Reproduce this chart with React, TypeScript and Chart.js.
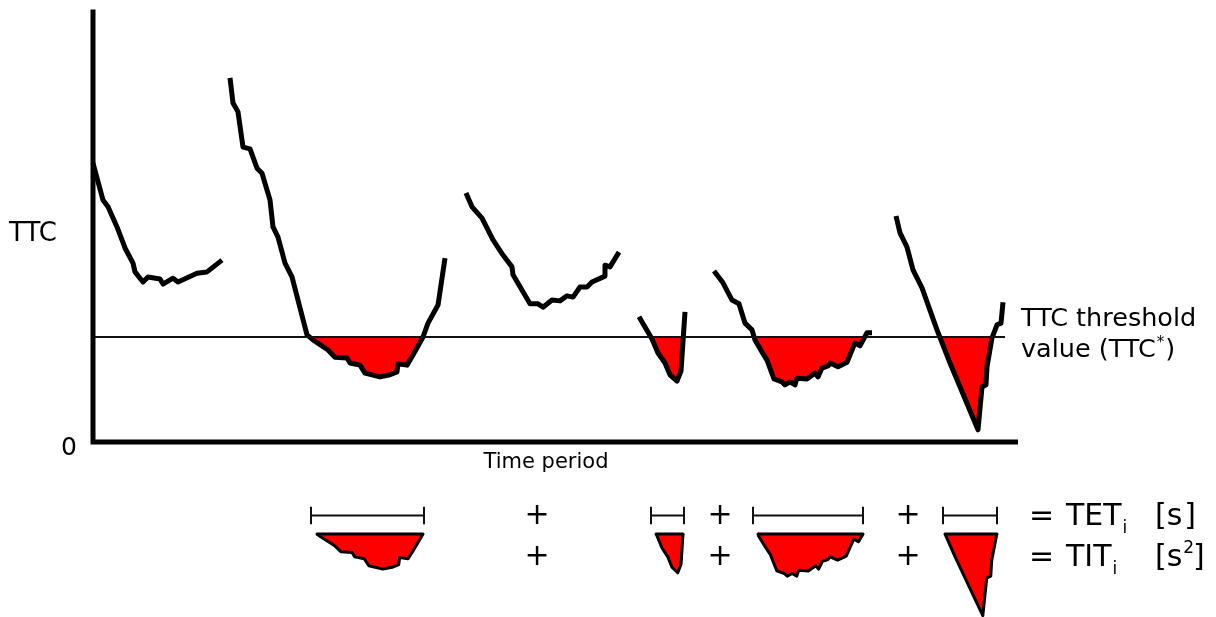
import React, { useEffect, useRef } from "react";
import { Chart, registerables } from "chart.js";

Chart.register(...registerables);

// ---- DATA (time in s, TTC in s) ----
const thresholdTTC = 2.5;

const seg1T = [0, 1.0, 1.5, 2.4, 3.2, 4.0, 4.2, 5.0, 5.5, 6.7, 7.0, 8.0, 8.5, 10.4, 11.4, 12.9];
const seg1V = [6.64, 5.76, 5.6, 5.12, 4.62, 4.26, 4.05, 3.81, 3.93, 3.88, 3.76, 3.9, 3.81, 4.02, 4.05, 4.33];

const seg2T = [13.7, 14.0, 14.5, 15.0, 15.7, 16.4, 16.9, 17.7, 18.0, 18.5, 19.2, 19.9, 20.5, 21.4, 22.0, 23.5, 24.2, 25.4, 25.7, 26.7, 27.2, 28.7, 29.7, 30.4, 30.5, 31.4, 32.0, 33.0, 33.5, 34.5, 35.2];
const seg2V = [8.67, 8.07, 7.86, 7.02, 6.98, 6.52, 6.4, 5.76, 5.12, 4.88, 4.26, 3.93, 3.38, 2.55, 2.43, 2.19, 2.02, 2.0, 1.88, 1.83, 1.64, 1.55, 1.6, 1.67, 1.86, 1.83, 2.07, 2.5, 2.83, 3.26, 4.38];

const seg3T = [37.3, 37.9, 38.9, 40.0, 41.0, 41.9, 42.0, 43.7, 44.5, 45.0, 45.9, 46.7, 47.4, 48.0, 48.7, 49.4, 49.9, 51.2, 51.2, 51.7, 52.6];
const seg3V = [5.93, 5.6, 5.33, 4.81, 4.45, 4.17, 3.98, 3.29, 3.29, 3.21, 3.38, 3.36, 3.48, 3.45, 3.69, 3.69, 3.81, 3.95, 4.21, 4.17, 4.52];

const seg4T = [54.6, 55.9, 56.5, 57.2, 57.7, 58.4, 58.8, 59.2];
const seg4V = [2.98, 2.45, 2.12, 1.88, 1.6, 1.45, 1.69, 3.1];

const seg5T = [62.1, 63.0, 63.9, 64.6, 65.2, 65.9, 66.2, 66.9, 67.4, 68.1, 68.9, 69.2, 69.7, 70.2, 70.4, 71.4, 72.2, 72.5, 72.9, 73.5, 73.7, 74.5, 75.4, 76.2, 76.7, 77.4, 77.9];
const seg5V = [4.07, 3.79, 3.38, 3.29, 2.83, 2.67, 2.43, 2.14, 1.95, 1.5, 1.43, 1.36, 1.43, 1.36, 1.52, 1.5, 1.64, 1.55, 1.76, 1.81, 1.88, 1.79, 1.9, 2.36, 2.29, 2.6, 2.6];

const seg6T = [80.3, 80.7, 81.4, 82.0, 82.9, 84.4, 85.7, 88.5, 88.9, 89.3, 89.4, 89.9, 90.4, 90.8, 91.0];
const seg6V = [5.38, 4.98, 4.64, 4.1, 3.67, 2.67, 1.88, 0.29, 1.31, 1.36, 1.79, 2.48, 2.79, 2.83, 3.33];

// Exceedance intervals (TET) and the re-drawn exposure areas (TIT)
const tetStart = [21.8, 55.8, 66.0, 85.0];
const tetEnd = [33.1, 59.1, 77.0, 90.4];
const titStart = [22.4, 56.3, 66.5, 85.2];
const titEnd = [33.0, 59.0, 77.0, 90.4];
const plusT = [44.4, 62.7, 81.5];

const axisTimeEnd = 92.5;
const axisTTCTop = 10.3;
const thresholdEnd = 91.2;

// ---- layout constants ----
const X_MIN = -9.3;
const X_MAX = 112.3;
const Y_MIN = -4.1667;
const Y_MAX = 10.5238;
const TET_ROW = -1.75;
const TET_TICK = 0.21;
const TIT_TOP = -2.19;
const TIT_SCALE = 0.88;
const PLUS_ROW2 = -2.72;

const RED = "#ff0000";
const FONT = '"DejaVu Sans", Verdana, sans-serif';

type P = { x: number; y: number };

function pts(T: number[], V: number[]): P[] {
  return T.map((t, i) => ({ x: t, y: V[i] }));
}

function belowPart(T: number[], V: number[], thr: number): P[] {
  const out: P[] = [];
  for (let i = 0; i < T.length; i++) {
    if (i > 0) {
      const a = V[i - 1] - thr;
      const b = V[i] - thr;
      if (a < 0 !== b < 0 && a !== b) {
        const f = a / (a - b);
        out.push({ x: T[i - 1] + f * (T[i] - T[i - 1]), y: thr });
      }
    }
    if (V[i] < thr) out.push({ x: T[i], y: V[i] });
  }
  return out;
}

const curveSegments: [number[], number[]][] = [
  [seg1T, seg1V],
  [seg2T, seg2V],
  [seg3T, seg3V],
  [seg4T, seg4V],
  [seg5T, seg5V],
  [seg6T, seg6V],
];
const exceedSegments: [number[], number[]][] = [
  [seg2T, seg2V],
  [seg4T, seg4V],
  [seg5T, seg5V],
  [seg6T, seg6V],
];

const textPlugin = {
  id: "diagramText",
  afterDraw(chart: any) {
    const { ctx } = chart;
    const xs = chart.scales.x;
    const ys = chart.scales.y;
    const X = (t: number) => xs.getPixelForValue(t);
    const Y = (v: number) => ys.getPixelForValue(v);
    ctx.save();
    ctx.fillStyle = "#000";
    ctx.textBaseline = "alphabetic";

    // y-axis label
    ctx.font = `26px ${FONT}`;
    ctx.textAlign = "left";
    ctx.fillText("TTC", 9, 241);

    // zero
    ctx.font = `25px ${FONT}`;
    ctx.textAlign = "right";
    ctx.fillText("0", X(0) - 16, Y(0) + 13);

    // x-axis label
    ctx.font = `21px ${FONT}`;
    ctx.textAlign = "center";
    ctx.fillText("Time period", X(45.3), Y(0) + 26);

    // threshold label
    ctx.textAlign = "left";
    ctx.font = `25.5px ${FONT}`;
    const lx = 1021;
    ctx.fillText("TTC threshold", lx, 326);
    const s1 = "value (TTC";
    ctx.fillText(s1, lx, 357);
    const w = ctx.measureText(s1).width;
    ctx.font = `15px ${FONT}`;
    ctx.fillText("*", lx + w + 1, 347);
    const ws = ctx.measureText("*").width;
    ctx.font = `25.5px ${FONT}`;
    ctx.fillText(")", lx + w + ws + 2, 357);

    // plus signs
    ctx.font = `30px ${FONT}`;
    ctx.textAlign = "center";
    ctx.textBaseline = "middle";
    for (const t of plusT) {
      ctx.fillText("+", X(t), Y(TET_ROW) + 1);
      ctx.fillText("+", X(t), Y(PLUS_ROW2) + 1);
    }

    // equations
    ctx.textBaseline = "alphabetic";
    ctx.textAlign = "left";
    const ex = 1029;
    const rows: [string, number, boolean][] = [
      ["TET", 525, false],
      ["TIT", 566, true],
    ];
    for (const [name, base, sq] of rows) {
      ctx.font = `30px ${FONT}`;
      ctx.fillText("=", ex, base);
      ctx.fillText(name, 1066, base);
      const nw = ctx.measureText(name).width;
      ctx.font = `17px ${FONT}`;
      ctx.fillText("i", 1066 + nw + 1, base + 8);
      ctx.font = `30px ${FONT}`;
      ctx.fillText("[s", 1155, base);
      const bw = ctx.measureText("[s").width;
      if (sq) {
        ctx.font = `17px ${FONT}`;
        ctx.fillText("2", 1155 + bw + 1, base - 13);
        ctx.font = `30px ${FONT}`;
        ctx.fillText("]", 1193, base);
      } else {
        ctx.fillText("]", 1155 + bw + 2, base);
      }
    }
    ctx.restore();
  },
};

export default function App() {
  const ref = useRef<HTMLCanvasElement | null>(null);

  useEffect(() => {
    if (!ref.current) return;
    const datasets: any[] = [];

    // axes
    datasets.push({
      data: [
        { x: 0, y: axisTTCTop },
        { x: 0, y: 0 },
        { x: axisTimeEnd, y: 0 },
      ],
      borderColor: "#000",
      borderWidth: 5,
      borderJoinStyle: "miter",
      fill: false,
    });
    // threshold
    datasets.push({
      data: [
        { x: 0, y: thresholdTTC },
        { x: thresholdEnd, y: thresholdTTC },
      ],
      borderColor: "#111",
      borderWidth: 2,
      fill: false,
    });
    // TTC curve segments with red exceedance fill
    for (const [T, V] of curveSegments) {
      datasets.push({
        data: pts(T, V),
        borderColor: "#000",
        borderWidth: 5,
        borderJoinStyle: "round",
        borderCapStyle: "butt",
        fill: { target: { value: thresholdTTC }, above: "rgba(0,0,0,0)", below: RED },
      });
    }
    // TET intervals
    for (let i = 0; i < tetStart.length; i++) {
      const a = tetStart[i];
      const b = tetEnd[i];
      datasets.push({
        data: [
          { x: a, y: TET_ROW + TET_TICK },
          { x: a, y: TET_ROW - TET_TICK },
          { x: a, y: TET_ROW },
          { x: b, y: TET_ROW },
          { x: b, y: TET_ROW + TET_TICK },
          { x: b, y: TET_ROW - TET_TICK },
        ],
        borderColor: "#111",
        borderWidth: 2,
        fill: false,
      });
    }
    // TIT areas (copies of the exceedance areas)
    exceedSegments.forEach(([T, V], i) => {
      const part = belowPart(T, V, thresholdTTC);
      const L = part[0].x;
      const R = part[part.length - 1].x;
      const mapped = part.map((p) => ({
        x: titStart[i] + ((p.x - L) / (R - L)) * (titEnd[i] - titStart[i]),
        y: TIT_TOP + (p.y - thresholdTTC) * TIT_SCALE,
      }));
      datasets.push({
        data: mapped,
        borderColor: "#000",
        borderWidth: 3,
        borderJoinStyle: "round",
        fill: { target: { value: TIT_TOP }, above: "rgba(0,0,0,0)", below: RED },
      });
      datasets.push({
        data: [
          { x: titStart[i], y: TIT_TOP },
          { x: titEnd[i], y: TIT_TOP },
        ],
        borderColor: "#000",
        borderWidth: 3,
        borderCapStyle: "round",
        fill: false,
      });
    });

    const chart = new Chart(ref.current, {
      type: "line",
      data: { datasets },
      options: {
        animation: false,
        responsive: false,
        devicePixelRatio: 1,
        events: [],
        layout: { padding: 0, autoPadding: false },
        elements: { point: { radius: 0, hoverRadius: 0 }, line: { tension: 0 } },
        plugins: {
          legend: { display: false },
          tooltip: { enabled: false },
          filler: { drawTime: "beforeDatasetsDraw" },
        },
        scales: {
          x: { type: "linear", display: false, min: X_MIN, max: X_MAX },
          y: { type: "linear", display: false, min: Y_MIN, max: Y_MAX },
        },
      } as any,
      plugins: [textPlugin],
    });
    return () => chart.destroy();
  }, []);

  return (
    <div style={{ position: "fixed", left: 0, top: 0, width: 1216, height: 617, background: "#fff" }}>
      <canvas ref={ref} width={1216} height={617} style={{ display: "block" }} />
    </div>
  );
}
